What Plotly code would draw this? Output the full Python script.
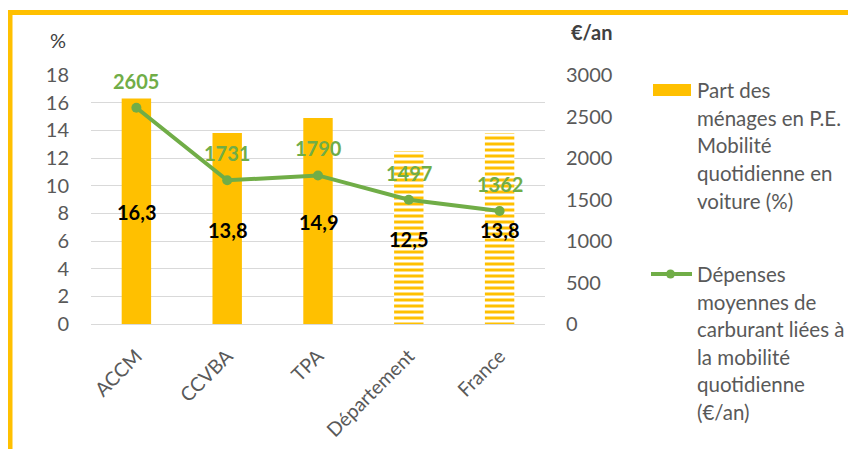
import plotly.graph_objects as go

categories = ["ACCM", "CCVBA", "TPA", "Département", "France"]
part_menages = [16.3, 13.8, 14.9, 12.5, 13.8]
depenses = [2605, 1731, 1790, 1497, 1362]
bar_patterns = ["", "", "", "-", "-"]
bar_labels = ["16,3", "13,8", "14,9", "12,5", "13,8"]

YELLOW = "#FFC000"
GREEN = "#70AD47"
GREY = "#595959"
FONT = "Lato"

# page offset (body margin of the html page)
OFF = 8
# plot area in screen pixels
L, R, T, B = 91, 545, 75, 324
W, H = 856, 449


def px(x):
    return (x - L) / (R - L)


def py(y):
    return (B - y) / (B - T)


fig = go.Figure()
fig.add_trace(go.Bar(
    x=categories, y=part_menages, yaxis="y",
    marker=dict(color=YELLOW, line=dict(width=0),
                pattern=dict(shape=bar_patterns, fgcolor=YELLOW, bgcolor="white",
                             size=6, solidity=0.5, fillmode="replace")),
    showlegend=False, hoverinfo="x+y",
))
fig.add_trace(go.Scatter(
    x=categories, y=depenses, yaxis="y2", mode="lines+markers",
    line=dict(color=GREEN, width=4), marker=dict(color=GREEN, size=10),
    showlegend=False,
))

annotations = []
for c, v, t in zip(categories, part_menages, bar_labels):
    annotations.append(dict(x=c, y=v / 2, xref="x", yref="y", text=t, showarrow=False,
                            font=dict(family=FONT, size=20, color="black", weight="bold"),
                            yshift=-1))
for c, v in zip(categories, depenses):
    annotations.append(dict(x=c, y=v, xref="x", yref="y2", text=str(v), showarrow=False,
                            font=dict(family=FONT, size=20, color=GREEN, weight="bold"),
                            yshift=27))

# axis titles
annotations.append(dict(x=px(58), y=py(40), xref="paper", yref="paper", text="%",
                        showarrow=False, font=dict(family=FONT, size=20, color="#404040"),
                        xanchor="center", yanchor="middle"))
annotations.append(dict(x=px(592), y=py(32), xref="paper", yref="paper", text="€/an",
                        showarrow=False, font=dict(family=FONT, size=20, color="#404040", weight="bold"),
                        xanchor="center", yanchor="middle"))

# legend (drawn manually)
leg1 = ["Part des", "ménages en P.E.", "Mobilité", "quotidienne en", "voiture (%)"]
leg2 = ["Dépenses", "moyennes de", "carburant liées à", "la mobilité", "quotidienne", "(€/an)"]
for i, t in enumerate(leg1):
    annotations.append(dict(x=px(695), y=py(90 + i * 27.7), xref="paper", yref="paper", text=t,
                            showarrow=False, xanchor="left", yanchor="middle",
                            font=dict(family=FONT, size=20.5, color=GREY)))
for i, t in enumerate(leg2):
    annotations.append(dict(x=px(695), y=py(274 + i * 27.5), xref="paper", yref="paper", text=t,
                            showarrow=False, xanchor="left", yanchor="middle",
                            font=dict(family=FONT, size=20.5, color=GREY)))

shapes = [
    dict(type="rect", xref="paper", yref="paper", x0=px(653), x1=px(691), y0=py(84), y1=py(96),
         fillcolor=YELLOW, line=dict(width=0)),
    dict(type="line", xref="paper", yref="paper", x0=px(651), x1=px(692), y0=py(274), y1=py(274),
         line=dict(color=GREEN, width=4)),
    dict(type="circle", xref="paper", yref="paper", x0=px(666), x1=px(675), y0=py(269.5), y1=py(278.5),
         fillcolor=GREEN, line=dict(width=0)),
    # yellow frame
    dict(type="rect", xref="paper", yref="paper", x0=px(10), x1=px(W + 50), y0=py(H + 50), y1=py(12.5),
         line=dict(color=YELLOW, width=5), fillcolor="rgba(0,0,0,0)", layer="below"),
]

fig.update_layout(
    width=W, height=H,
    margin=dict(l=L - OFF, r=W - R + OFF, t=T - OFF, b=H - B + OFF, pad=0, autoexpand=False),
    paper_bgcolor="white", plot_bgcolor="white",
    font=dict(family=FONT, size=20, color=GREY),
    bargap=0.676,
    xaxis=dict(tickangle=-45, showgrid=False, showline=False, zeroline=False, automargin=False,
               tickfont=dict(family=FONT, size=19.5, color=GREY), ticks="", ticklabelstandoff=16),
    yaxis=dict(range=[0, 18], dtick=2, showgrid=True, gridcolor="#D9D9D9", gridwidth=1.3,
               zeroline=True, zerolinecolor="#D9D9D9", zerolinewidth=1.3, automargin=False,
               tickfont=dict(family=FONT, size=20, color=GREY), ticklabelstandoff=21),
    yaxis2=dict(range=[0, 3000], dtick=500, overlaying="y", side="right", showgrid=False,
                zeroline=False, automargin=False, tickfont=dict(family=FONT, size=20, color=GREY),
                ticklabelstandoff=20),
    annotations=annotations,
    shapes=shapes,
    showlegend=False,
)

fig.write_html("out.html")
